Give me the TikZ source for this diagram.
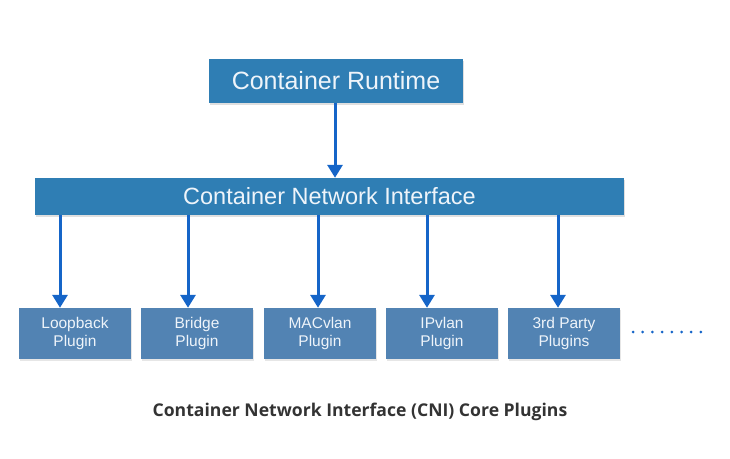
\documentclass[tikz,border=0pt]{standalone}
\usepackage{fontspec}
\setmainfont{Liberation Sans}
\newfontfamily\capfont{Open Sans}
\usetikzlibrary{arrows.meta,shadows}
\definecolor{topblue}{HTML}{2F7EB4}
\definecolor{plugblue}{HTML}{5283B3}
\definecolor{arrblue}{HTML}{1565C8}
\definecolor{txtwhite}{HTML}{EEF4FA}
\definecolor{capgray}{HTML}{333333}
\tikzset{
  topbox/.style={draw=none, fill=topblue, inner sep=0pt, text=txtwhite, drop shadow={shadow xshift=1pt, shadow yshift=-1.5pt, opacity=0.25}},
  plugbox/.style={draw=none, fill=plugblue, inner sep=0pt, minimum width=112pt, minimum height=51pt, text=txtwhite, align=center, font=\fontsize{15.5}{18.5}\selectfont, drop shadow={shadow xshift=1pt, shadow yshift=-1.5pt, opacity=0.2}},
  arr/.style={draw=arrblue, line width=3pt, -{Triangle[length=13pt,width=15pt]}, shorten >=0pt},
}
\begin{document}
\begin{tikzpicture}[x=1pt,y=-1pt]
\useasboundingbox (0,0) rectangle (730,458);
\node[topbox, minimum width=254pt, minimum height=44pt, font=\fontsize{25}{29}\selectfont] (cr) at (336,81) {Container Runtime};
\node[topbox, minimum width=589pt, minimum height=37pt, font=\fontsize{23.5}{27}\selectfont] (cni) at (329.5,196.5) {Container Network Interface};
\node[plugbox] (lo) at (75,333.5) {Loopback\\Plugin};
\node[plugbox] (br) at (197,333.5) {Bridge\\Plugin};
\node[plugbox] (mac) at (320,333.5) {MACvlan\\Plugin};
\node[plugbox] (ip) at (442,333.5) {IPvlan\\Plugin};
\node[plugbox] (tp) at (564,333.5) {3rd Party\\Plugins};
\draw[arr] (cr.south -| 335,0) -- (cni.north -| 335,0);
\draw[arr] (cni.south -| 60,0) -- (lo.north -| 60,0);
\draw[arr] (cni.south -| 188,0) -- (br.north -| 188,0);
\draw[arr] (cni.south -| 318,0) -- (mac.north -| 318,0);
\draw[arr] (cni.south -| 427,0) -- (ip.north -| 427,0);
\draw[arr] (cni.south -| 558,0) -- (tp.north -| 558,0);
\foreach \i in {0,...,7} \fill[arrblue] (633+\i*9.7,332) circle (1.5pt);
\node[font=\capfont\bfseries\fontsize{17.6}{20}\selectfont, text=capgray] (cap) at (360,412) {Container Network Interface (CNI) Core Plugins};
\end{tikzpicture}
\end{document}
